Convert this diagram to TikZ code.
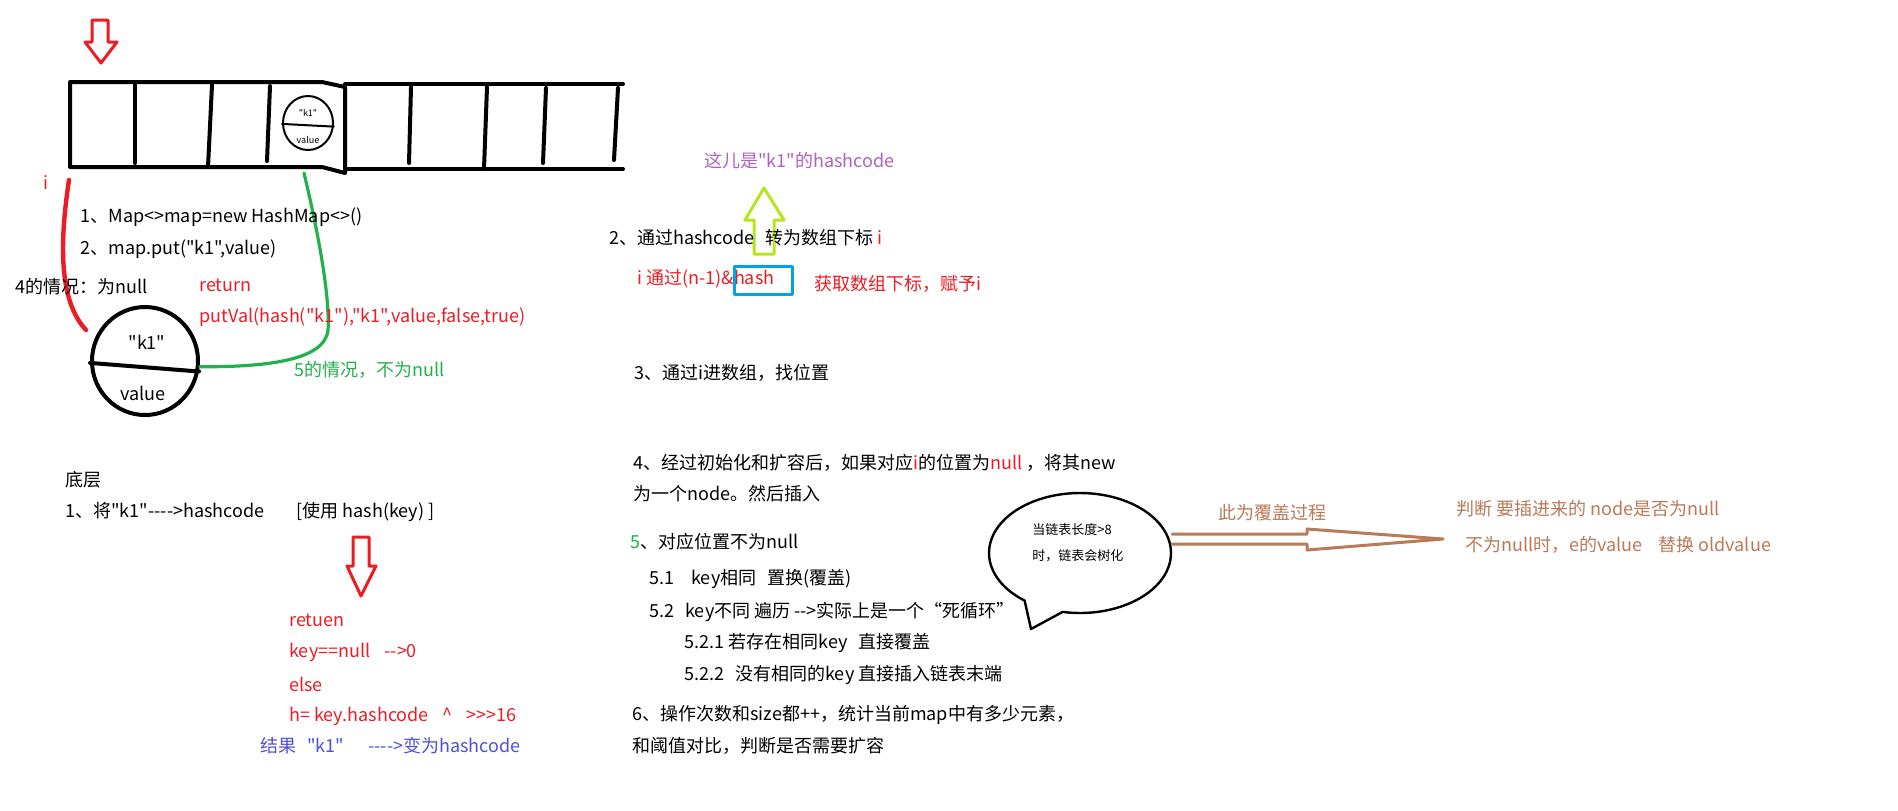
\documentclass[tikz,border=0pt]{standalone}
\usepackage{fontspec}
\newfontfamily\notecjk{Noto Sans CJK SC}
\usetikzlibrary{shapes.geometric}
\definecolor{pred}{HTML}{ED1C24}
\definecolor{pgreen}{HTML}{22B14C}
\definecolor{plime}{HTML}{B5E61D}
\definecolor{pturq}{HTML}{00A2E8}
\definecolor{pbrown}{HTML}{B97A57}
\definecolor{ppurple}{HTML}{B060C0}
\definecolor{pblue}{HTML}{4F4FDD}
\newcommand{\gapb}{\hspace{5.5pt}}
\newcommand{\gapc}{\hspace{8.5pt}}

\begin{document}
\begin{tikzpicture}[x=0.5pt,y=-0.5pt,line join=round,line cap=round,
  txt/.style={anchor=west,inner sep=0pt,font=\notecjk\fontsize{9}{11}\selectfont},
  small/.style={inner sep=0pt,font=\notecjk\fontsize{6.5}{8}\selectfont},
  tiny/.style={inner sep=0pt,font=\notecjk\fontsize{4.5}{5}\selectfont},
  arrline/.style={line width=2pt},
  hollow/.style={line width=1.5pt}]
\fill[white] (0,0) rectangle (1898,810);
\useasboundingbox (0,0) rectangle (1898,810);

% the table
\draw[arrline] (70,82) -- (322,82) -- (345,87) -- (345,173) -- (322,167) -- (70,167) -- cycle;
\draw[arrline] (345,84) -- (623,84);
\draw[arrline] (345,169) -- (623,169);
\foreach \xt/\xb/\yt/\yb in {135/135/85/163,212/208/85/167,270/267/86/161,411/409/87/163,487/484/87/169,546/543/88/163,618/614/88/160}
  \draw[arrline] (\xt,\yt) -- (\xb,\yb);
\node[ellipse,draw,line width=1pt,minimum width=25pt,minimum height=27pt,inner sep=0pt] (cellkv) at (308,123) {};
\draw[line width=1pt] (cellkv.182) -- (cellkv.-8);
\node[tiny] (cellkey) at (308,113) {"k1"};
\node[tiny] (cellval) at (308,140) {value};

% red arrows
\draw[hollow,pred] (92,20) -- (108,20) -- (108,42) -- (117,42) -- (101,63) -- (85,42) -- (92,42) -- cycle;
\draw[hollow,pred] (353,537) -- (369,537) -- (369,566) -- (376,566) -- (361,596) -- (347,566) -- (353,566) -- cycle;

% the entry
\node[ellipse,draw,line width=2pt,minimum width=53pt,minimum height=54pt,inner sep=0pt] (bigkv) at (145,361) {};
\draw[line width=2pt] (bigkv.182) -- (bigkv.-11);
\node[txt,anchor=center] (bigkey) at (147,342) {"k1"};
\node[txt,anchor=center] (bigval) at (143,393) {value};

\coordinate (redtop) at (69,180);
\coordinate (redend) at (86,330);
\draw[pred,line width=2.2pt] (redtop) .. controls (60,240) and (58,300) .. (redend);
\coordinate (greentop) at (304,173);
\coordinate (greenbend) at (328,330);
\draw[pgreen,line width=1.6pt] (greentop) .. controls (320,240) and (330,300) .. (greenbend) .. controls (325,362) and (260,367) .. (bigkv.-6);

% left texts
\node[txt,pred] (idx) at (43,183) {i};
\node[txt] (step1) at (80,217) {1、Map<>map=new HashMap<>()};
\node[txt] (step2) at (80,249) {2、map.put("k1",value)};
\node[txt] (case4) at (15,287) {4的情况：为null};
\node[txt,pred] (ret) at (199,285) {return};
\node[txt,pred] (putval) at (199,317) {putVal(hash("k1"),"k1",value,false,true)};
\node[txt,pgreen] (case5) at (294,370) {5的情况，不为null};
\node[txt] (bottom) at (65,480) {底层};
\node[txt] (hash1) at (65,512) {1、将"k1"---->hashcode\hspace{16pt}[使用 hash(key) ]};
\node[txt,pred] (h1) at (289,620) {retuen};
\node[txt,pred] (h2) at (289,652) {key==null\hspace{7pt}-->0};
\node[txt,pred] (h3) at (289,684) {else};
\node[txt,pred] (h4) at (289,716) {h= key.hashcode\hspace{7pt}\^{}\hspace{7pt}>>>16};
\node[txt,pblue] (hres) at (260,746) {结果\gapb"k1"\hspace{12pt}---->变为hashcode};

% middle texts
\node[txt,ppurple] (hcode) at (704,161) {这儿是"k1"的hashcode};
\draw[hollow,plime] (754,254) -- (754,220) -- (745,220) -- (764,188) -- (784,220) -- (774,220) -- (774,254) -- cycle;
\node[txt] (m2) at (609,238) {2、通过hashcode\gapb 转为数组下标 {\color{pred}i}};
\node[txt,pred] (m2a) at (637,279) {i 通过(n-1)\&hash};
\draw[hollow,pturq] (734,266) rectangle (792,294);
\node[txt,pred] (m2b) at (814,284) {获取数组下标，赋予i};
\node[txt] (m3) at (634,373) {3、通过i进数组，找位置};
\node[txt] (m4) at (633,463) {4、经过初始化和扩容后，如果对应{\color{pred}i}的位置为{\color{pred}null}\hspace{2pt}，将其new};
\node[txt] (m4b) at (633,494) {为一个node。然后插入};
\node[txt] (m5) at (630,542) {{\color{pgreen}5}、对应位置不为null};
\node[txt] (m51) at (649,579) {5.1\gapc key相同\gapb 置换(覆盖)};
\node[txt] (m52) at (649,612) {5.2\gapb key不同 遍历 -->实际上是一个“死循环”};
\node[txt] (m521) at (684,643) {5.2.1 若存在相同key\gapb 直接覆盖};
\node[txt] (m522) at (684,675) {5.2.2\gapb 没有相同的key 直接插入链表末端};
\node[txt] (m6) at (632,715) {6、操作次数和size都++，统计当前map中有多少元素，};
\node[txt] (m6b) at (632,746) {和阈值对比，判断是否需要扩容};

% bubble
\draw[line width=1.2pt] plot[domain=-101:232.5,samples=90] ({1080+91*cos(\x)},{553-60*sin(\x)}) -- (1031,629) -- cycle;
\node[small,anchor=west] (tree1) at (1032,530) {当链表长度>8};
\node[small,anchor=west] (tree2) at (1032,556) {时，链表会树化};

% right side
\draw[hollow,pbrown] (1172,534) -- (1307,534) -- (1307,529) -- (1443,539) -- (1307,550) -- (1307,544) -- (1172,544);
\node[txt,pbrown] (cover) at (1218,513) {此为覆盖过程};
\node[txt,pbrown] (judge) at (1456,509) {判断 要插进来的 node是否为null};
\node[txt,pbrown] (repl) at (1465,545) {不为null时，e的value\hspace{8pt}替换 oldvalue};
\end{tikzpicture}
\end{document}
